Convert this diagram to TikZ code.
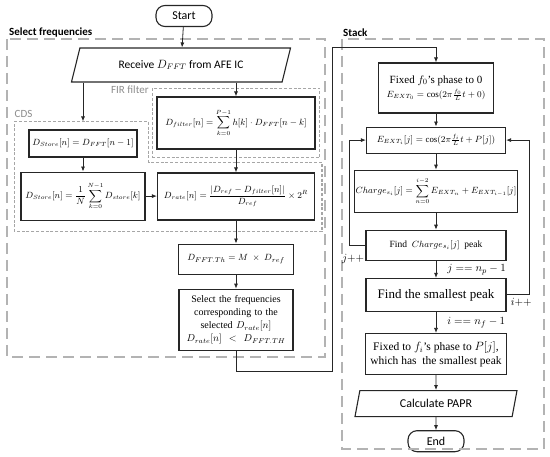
\documentclass[tikz,border=0pt]{standalone}
\usepackage{amsmath,amssymb}
\usepackage{fontspec}
\setmainfont{Liberation Serif}
\newfontfamily\flowsans{Carlito}
\usepackage{tikz}
\usetikzlibrary{arrows.meta,positioning,fit,calc,shapes.geometric}
\definecolor{flowdark}{HTML}{262626}
\definecolor{flowgray}{HTML}{A6A6A6}
\definecolor{flowtag}{HTML}{8C8C8C}

\begin{document}
\begin{tikzpicture}[
  x=1pt, y=1pt,
  node distance=14pt,
  box/.style={draw=flowdark, line width=1.1pt, inner sep=1pt, align=center,
              font=\fontsize{8.8}{11}\selectfont},
  term/.style={box, rounded corners=9pt, minimum width=56pt, minimum height=21pt,
               font=\flowsans\fontsize{12}{14}\selectfont},
  io/.style={box, trapezium, trapezium left angle=55, trapezium right angle=125,
             trapezium stretches body, font=\flowsans\fontsize{11.5}{14}\selectfont},
  group/.style={draw=flowgray, line width=1.2pt, dash pattern=on 3pt off 1.8pt},
  outer/.style={draw=flowgray!85, line width=1.4pt, dash pattern=on 11pt off 6pt},
  tag/.style={text=flowtag, inner sep=1pt, font=\flowsans\fontsize{11}{13}\selectfont},
  sec/.style={inner sep=1pt, font=\flowsans\bfseries\fontsize{11}{13}\selectfont},
  cond/.style={inner sep=1pt, font=\fontsize{11}{13}\selectfont},
  arr/.style={-{Latex[length=5pt,width=4pt]}, line width=0.8pt, draw=flowdark}
]
\useasboundingbox (0,0) rectangle (550,-457);

% select frequencies
\node[term] (start) at (184,-16) {Start};
\node[io, minimum width=219pt, minimum height=34pt] (receive) at (181,-65)
  {Receive $D_{FFT}$ from AFE IC};
\node[box, minimum width=158pt, minimum height=52pt] (dfilter) at (236,-123)
  {$D_{filter}[n] = \displaystyle\sum_{k=0}^{P-1} h[k]\cdot D_{FFT}[n-k]$};
\node[box, minimum width=108pt, minimum height=27pt] (dstoreA) at (83,-143.5)
  {$D_{Store}[n] = D_{FFT}[n-1]$};
\node[box, minimum width=124pt, minimum height=48pt, below=14pt of dstoreA] (dstoreB)
  {$D_{Store}[n] = \dfrac{1}{N}\displaystyle\sum_{k=0}^{N-1} D_{store}[k]$};
\node[box, minimum width=157pt, minimum height=47pt] (drate) at (236,-196.5)
  {$D_{rate}[n] = \dfrac{\lvert D_{ref}-D_{filter}[n]\rvert}{D_{ref}}\times 2^R$};
\node[box, minimum width=115pt, minimum height=30pt, below=23pt of drate,
      font=\fontsize{9.5}{12}\selectfont] (dth)
  {$D_{FFT.Th} = M \ \times\ D_{ref}$};
\node[box, text width=112pt, minimum height=61pt, below=14pt of dth,
      font=\fontsize{10}{13.3}\selectfont] (select)
  {Select the frequencies\\corresponding to the\\selected $D_{rate}[n]$\\$D_{rate}[n] \ <\ D_{FFT.TH}$};

% groups
\node[group, inner xsep=4pt, inner ysep=8pt, fit=(dfilter)] (fir) {};
\node[tag, anchor=north east] at ($(fir.north west)+(-2,3)$) {FIR filter};
\coordinate (cdsnw) at ($(dstoreB.west |- dstoreA.north)+(-6,8)$);
\draw[group] (cdsnw) -| ($(dstoreA.east)+(11,0)$) |- ($(drate.north east)+(7,10)$)
  |- ($(dstoreB.south west)+(-6,-11)$) -- cycle;
\node[tag, anchor=south west] at ($(cdsnw)+(-1,3)$) {CDS};
\draw[outer] (7,-39) rectangle (325,-357);
\node[sec, anchor=south west] at (8,-38) {Select frequencies};

% stack
\node[box, minimum width=115pt, minimum height=50pt, font=\fontsize{11}{14}\selectfont] (fixed) at (436,-88)
  {Fixed $f_0$'s phase to 0\\{\fontsize{9}{11}\selectfont$E_{EXT_0} = \cos(2\pi\frac{f_0}{L}t + 0)$}};
\node[box, minimum width=139pt, minimum height=26pt, below=13pt of fixed] (eext)
  {$E_{EXT_i}[j] = \cos(2\pi\frac{f_i}{L}t + P[j])$};
\node[box, minimum width=161pt, minimum height=42pt, below=16pt of eext] (charge)
  {$Charge_{s_i}[j] = \displaystyle\sum_{n=0}^{i-2} E_{EXT_n} + E_{EXT_{i-1}}[j]$};
\node[box, minimum width=140pt, minimum height=30pt, below=17pt of charge,
      font=\fontsize{9.5}{12}\selectfont] (findpk)
  {Find \ $Charge_{s_i}[j]$ \ peak};
\node[box, minimum width=140pt, minimum height=33pt, below=17pt of findpk,
      font=\fontsize{13}{15}\selectfont] (smallest) {Find the smallest peak};
\node[box, minimum width=141pt, minimum height=41pt, below=21pt of smallest,
      font=\fontsize{11.5}{14}\selectfont] (fixedfi)
  {Fixed to $f_i$'s phase to $P[j]$,\\which has\ \ the smallest peak};
\node[io, minimum width=162pt, minimum height=26pt, below=15pt of fixedfi,
      trapezium left angle=65, trapezium right angle=115,
      font=\flowsans\fontsize{12}{14}\selectfont] (papr) {Calculate PAPR};
\node[term, below=13pt of papr] (end) {End};
\draw[outer] (342,-39) rectangle (544,-449);
\node[sec, anchor=south west] at (342,-38) {Stack};

% connectors
\draw[arr] (start) -- (receive);
\draw[arr] (receive.south -| dstoreA) -- (dstoreA |- cdsnw);
\draw[arr] (receive.south -| dfilter) -- (dfilter);
\draw[arr] (dstoreA) -- (dstoreB);
\draw[arr] (dstoreB.east) -- (dstoreB.east -| drate.west);
\draw[arr] (dfilter) -- (drate);
\draw[arr] (drate) -- (dth);
\draw[arr] (dth) -- (select);
\coordinate (hop) at (332,-47);
\draw[arr] (select.south) -- ++(0,-21) -| (hop) -| (fixed.north);

\draw[arr] (fixed) -- (eext);
\draw[arr] (eext) -- (charge);
\draw[arr] (charge) -- (findpk);
\draw[arr] (findpk) -- node[cond, right=10pt] {$j \mathrel{==} n_p - 1$} (smallest);
\draw[arr] (smallest) -- node[cond, right=10pt] {$i \mathrel{==} n_f - 1$} (fixedfi);
\draw[arr] (fixedfi) -- (papr);
\draw[arr] (papr) -- (end);
\draw[arr] (findpk.west) -- ++(-16,0) |- (eext.west);
\node[cond, anchor=east] at ($(findpk.south west)+(0,2)$) {$j{+}{+}$};
\draw[arr] (smallest.east) -- ++(23,0) |- (eext.east);
\node[cond, anchor=north west] at ($(smallest.east)+(3,-2)$) {$i{+}{+}$};
\end{tikzpicture}
\end{document}
